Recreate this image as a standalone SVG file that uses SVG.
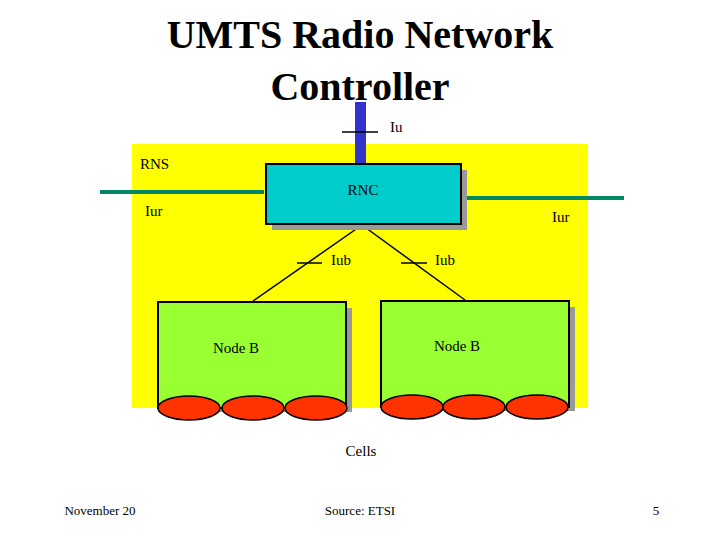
<svg xmlns="http://www.w3.org/2000/svg" width="720" height="540" viewBox="0 0 720 540">
<style>
text{font-family:"Liberation Serif",serif;fill:#000}
.l{font-size:15px}
.sh{fill:#999}
.bx{stroke:#000;stroke-width:2}
.cell{fill:#ff3300;stroke:#000;stroke-width:1.5}
</style>
<rect width="720" height="540" fill="#fff"/>
<text x="360" y="48" font-size="40" font-weight="bold" text-anchor="middle">UMTS Radio Network</text>
<text x="360" y="100" font-size="40" font-weight="bold" text-anchor="middle">Controller</text>
<rect x="132" y="144" width="456" height="264" fill="#ffff00"/>
<text class="l" x="140" y="169">RNS</text>
<g id="connectors">
<rect x="355" y="102" width="11" height="62" fill="#3333cc"/>
<line x1="342" y1="132" x2="378" y2="132" stroke="#000" stroke-width="1.5"/>
<line x1="100" y1="192" x2="264" y2="192" stroke="#008866" stroke-width="4"/>
<line x1="462" y1="198" x2="624" y2="198" stroke="#008866" stroke-width="4"/>
<line x1="362" y1="225" x2="253" y2="301" stroke="#000" stroke-width="1.5"/>
<line x1="362" y1="225" x2="465" y2="300" stroke="#000" stroke-width="1.5"/>
<line x1="297" y1="263" x2="322" y2="263" stroke="#000" stroke-width="1.5"/>
<line x1="401" y1="263" x2="427" y2="263" stroke="#000" stroke-width="1.5"/>
</g>
<text class="l" x="390" y="132">Iu</text>
<text class="l" x="145" y="216">Iur</text>
<text class="l" x="552" y="222">Iur</text>
<text class="l" x="331" y="265">Iub</text>
<text class="l" x="435" y="265">Iub</text>
<g id="rnc">
<rect class="sh" x="272" y="170" width="195" height="60"/>
<rect class="bx" x="266" y="164" width="195" height="60" fill="#00cccc"/>
<text class="l" x="363" y="195" text-anchor="middle">RNC</text>
</g>
<g id="nodeb1">
<rect class="sh" x="164" y="308" width="188" height="104"/>
<rect class="bx" x="158" y="302" width="188" height="106" fill="#99ff33"/>
<text class="l" x="236" y="353" text-anchor="middle">Node B</text>
<ellipse class="cell" cx="189" cy="408" rx="31" ry="12"/>
<ellipse class="cell" cx="253" cy="408" rx="31" ry="12"/>
<ellipse class="cell" cx="316" cy="408" rx="31" ry="12"/>
</g>
<g id="nodeb2">
<rect class="sh" x="387" y="307" width="188" height="104"/>
<rect class="bx" x="381" y="301" width="188" height="106" fill="#99ff33"/>
<text class="l" x="457" y="351" text-anchor="middle">Node B</text>
<ellipse class="cell" cx="412" cy="407" rx="31" ry="12"/>
<ellipse class="cell" cx="474" cy="407" rx="31" ry="12"/>
<ellipse class="cell" cx="537" cy="407" rx="31" ry="12"/>
</g>
<text class="l" x="361" y="456" text-anchor="middle">Cells</text>
<text x="100" y="515" font-size="13" text-anchor="middle">November 20</text>
<text x="360" y="515" font-size="13" text-anchor="middle">Source: ETSI</text>
<text x="656" y="515" font-size="13" text-anchor="middle">5</text>
</svg>
